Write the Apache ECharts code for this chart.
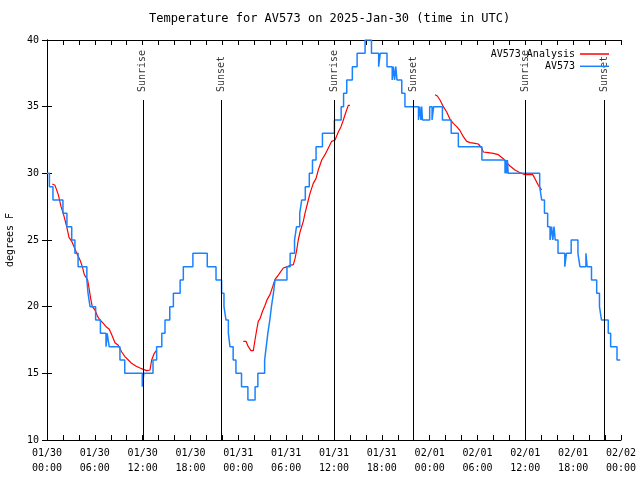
<!DOCTYPE html>
<html>
<head>
<meta charset="utf-8">
<script src="https://cdn.jsdelivr.net/npm/echarts@6/dist/echarts.min.js"></script>
<style>html,body{margin:0;padding:0;background:#fff}#c{width:640px;height:480px}</style>
</head>
<body>
<div id="c"></div>
<script>
// Hours since 2025-01-30 00:00 UTC, temperature in degrees F
const av573 = [
[0,30],[0.3,29],[0.75,28],[2.0,27],[2.5,26],[3.1,25],[3.5,24],[3.9,23],[5.0,22],[5.15,21],[5.4,20],[6.1,19],[6.7,18],[7.4,17],[7.55,18],[7.8,17],[9.15,16],[9.75,15],[11.95,14],[12.15,15],[13.3,16],[13.75,17],[14.4,18],[14.8,19],[15.4,20],[15.85,21],[16.7,22],[17.1,23],[18.3,24],[20.1,23],[21.2,22],[21.9,21],[22.2,20],[22.45,19],[22.75,18],[22.95,17],[23.35,16],[23.7,15],[24.4,14],[25.2,13],[26.1,14],[26.45,15],[27.3,16],[27.5,17],[27.7,18],[27.95,19],[28.15,20],[28.4,21],[28.6,22],[30.1,23],[30.5,24],[31.05,25],[31.3,26],[31.7,27],[31.95,28],[32.4,29],[32.9,30],[33.3,31],[33.75,32],[34.55,33],[36.05,34],[36.9,35],[37.2,36],[37.6,37],[38.3,38],[38.9,39],[39.9,40],[40.7,39],[41.6,38],[41.8,39],[42.65,38],[43.3,37],[43.45,38],[43.6,37],[43.75,38],[43.9,37],[44.5,36],[44.9,35],[46.6,34],[46.75,35],[46.9,34],[47.0,35],[47.1,34],[48.0,35],[48.3,34],[48.5,35],[49.6,34],[50.7,33],[51.6,32],[54.55,31],[57.45,30],[57.55,31],[57.65,30],[57.75,31],[57.85,30],[61.8,29],[62.05,28],[62.4,27],[62.8,26],[63.1,25],[63.3,26],[63.45,25],[63.6,26],[63.75,25],[64.1,24],[64.95,23],[65.15,24],[65.75,25],[66.6,24],[66.85,23],[67.6,24],[67.75,23],[68.3,22],[68.95,21],[69.3,20],[69.55,19],[70.4,18],[70.7,17],[71.5,16],[71.9,16]
];
const analysisDay1 = [
[0.66,29.2],[1.0,29.1],[1.42,28.4],[1.76,27.5],[2.04,27.0],[2.47,26.0],[2.76,25.2],[3.1,24.9],[3.42,24.45],[3.73,24.0],[4.14,23.5],[4.43,23.0],[4.68,22.4],[5.1,22.0],[5.27,21.4],[5.48,20.6],[5.68,20.0],[6.02,19.75],[6.36,19.25],[6.65,19.0],[7.06,18.75],[7.49,18.45],[7.81,18.3],[8.12,17.9],[8.53,17.3],[8.94,17.1],[9.37,16.6],[9.78,16.25],[10.2,16.0],[10.62,15.75],[11.13,15.55],[11.67,15.4],[12.08,15.3],[12.5,15.2],[12.92,15.25],[13.13,16.0],[13.46,16.5],[13.76,16.75]
];
const analysisDay2 = [
[24.62,17.4],[24.96,17.4],[25.25,17.0],[25.59,16.7],[25.88,16.7],[26.09,17.5],[26.3,18.25],[26.5,18.9],[26.72,19.1],[27.0,19.6],[27.35,20.1],[27.63,20.55],[27.97,20.9],[28.31,21.5],[28.6,22.05],[28.94,22.3],[29.23,22.55],[29.64,22.9],[30.14,23.0],[30.48,23.1],[30.9,23.15],[31.11,23.6],[31.32,24.25],[31.52,25.0],[31.74,25.6],[32.15,26.4],[32.36,27.0],[32.78,28.0],[32.99,28.5],[33.4,29.25],[33.74,29.6],[34.03,30.25],[34.46,31.0],[34.87,31.4],[35.29,31.9],[35.71,32.4],[36.13,32.5],[36.54,33.1],[36.88,33.5],[37.17,34.0],[37.5,34.6],[37.79,35.1],[38.0,35.1]
];
const analysisDay3 = [
[48.67,35.9],[48.96,35.8],[49.3,35.5],[49.71,35.0],[50.14,34.6],[50.55,34.05],[50.97,33.75],[51.39,33.5],[51.81,33.2],[52.22,32.75],[52.65,32.4],[53.06,32.3],[53.69,32.25],[54.1,32.2],[54.53,31.9],[54.73,31.6],[55.36,31.55],[55.98,31.5],[56.61,31.4],[57.24,31.1],[57.66,30.8],[58.08,30.55],[58.7,30.25],[59.33,30.05],[59.96,29.9],[60.37,29.9],[60.93,29.9],[61.21,29.6],[61.63,29.1],[62.05,28.75]
];
const eventTimes = [12.03, 21.88, 36.02, 45.9, 60.05, 69.9];
const eventNames = ['Sunrise', 'Sunset', 'Sunrise', 'Sunset', 'Sunrise', 'Sunset'];
const xTickLabels = ['01/30\n00:00','01/30\n06:00','01/30\n12:00','01/30\n18:00','01/31\n00:00','01/31\n06:00','01/31\n12:00','01/31\n18:00','02/01\n00:00','02/01\n06:00','02/01\n12:00','02/01\n18:00','02/02\n00:00'];

const FONT = 'DejaVu Sans Mono';
const EVENT_TOP = 35.5;
const RED = '#ff0000', BLUE = '#1a82ff';

const chart = echarts.init(document.getElementById('c'), null, {renderer: 'canvas'});
const axisLine = {show: true, lineStyle: {color: '#000', width: 1}};
const tick = {show: true, inside: true, length: 5, lineStyle: {color: '#000', width: 1}};
const legendCommon = {orient: 'vertical', align: 'right', icon: 'rect', itemWidth: 29, itemHeight: 1.5, padding: 0, right: 31,
  textStyle: {fontFamily: FONT, fontSize: 10, color: '#000'}};

const analysisSeries = [analysisDay1, analysisDay2, analysisDay3].map(d => ({
  name: 'AV573 Analysis', type: 'line', data: d, showSymbol: false, symbol: 'none',
  lineStyle: {color: RED, width: 1.2}, itemStyle: {color: RED}, z: 3
}));

chart.setOption({
  animation: false,
  backgroundColor: '#fff',
  title: {text: 'Temperature for AV573 on 2025-Jan-30 (time in UTC)', left: 149, top: 13, padding: 0,
    textStyle: {fontFamily: FONT, fontSize: 12, fontWeight: 'normal', color: '#000'}},
  legend: [
    Object.assign({}, legendCommon, {data: ['AV573 Analysis'], top: 49}),
    Object.assign({}, legendCommon, {data: ['AV573'], top: 61.3})
  ],
  grid: {left: 47, right: 19, top: 40, bottom: 40, containLabel: false, outerBoundsMode: 'none'},
  xAxis: [
    {type: 'value', min: 0, max: 72, interval: 2, position: 'bottom', axisLine, axisTick: tick, splitLine: {show: false},
     axisLabel: {margin: 6, fontFamily: FONT, fontSize: 10, color: '#000', lineHeight: 15,
       formatter: v => (v % 6 === 0 ? xTickLabels[v / 6] : '')}},
    {type: 'value', min: 0, max: 72, interval: 2, position: 'top', axisLine, axisTick: tick, splitLine: {show: false}, axisLabel: {show: false}}
  ],
  yAxis: [
    {type: 'value', min: 10, max: 40, interval: 5, position: 'left', axisLine, axisTick: tick, splitLine: {show: false},
     name: 'degrees F', nameLocation: 'middle', nameGap: 32, nameRotate: 90,
     nameTextStyle: {fontFamily: FONT, fontSize: 10, color: '#000'},
     axisLabel: {margin: 8, fontFamily: FONT, fontSize: 10, color: '#000'}},
    {type: 'value', min: 10, max: 40, interval: 5, position: 'right', axisLine, axisTick: tick, splitLine: {show: false}, axisLabel: {show: false}}
  ],
  series: analysisSeries.concat([
    {name: 'AV573', type: 'line', step: 'end', data: av573, showSymbol: false, symbol: 'none',
     lineStyle: {color: BLUE, width: 1.5}, itemStyle: {color: BLUE}, z: 4},
    {name: 'events', type: 'scatter', symbolSize: 0, z: 2,
     data: eventTimes.map((t, i) => [t, EVENT_TOP, eventNames[i]]),
     label: {show: true, position: 'top', distance: 8, rotate: 90, align: 'left', verticalAlign: 'middle',
       formatter: p => p.value[2], fontFamily: FONT, fontSize: 10, color: '#000'},
     markLine: {silent: true, symbol: ['none', 'none'], label: {show: false},
       lineStyle: {color: '#000', width: 1, type: 'solid'},
       data: eventTimes.map(t => [{coord: [t, 10]}, {coord: [t, EVENT_TOP]}])}}
  ])
});
</script>
</body>
</html>
